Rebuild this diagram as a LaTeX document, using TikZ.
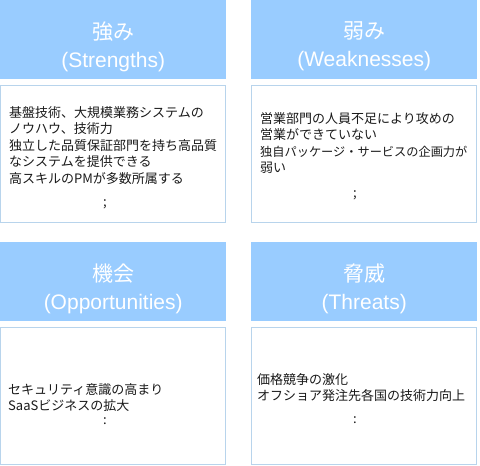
\documentclass[tikz,border=0pt]{standalone}
\usepackage{fontspec}
\setmainfont{Liberation Sans}
\newfontfamily\jpfont{Noto Sans CJK JP}
\usetikzlibrary{positioning}
\definecolor{swothead}{HTML}{99CCFF}
\definecolor{swotrule}{HTML}{B8D4EC}
\definecolor{swotink}{HTML}{1A1A1A}

\begin{document}
\begin{tikzpicture}[x=1pt, y=-1pt,
  head/.style={fill=swothead, minimum width=226pt, minimum height=79pt, inner sep=0pt, anchor=north west},
  ttl/.style={text=white, align=center, inner sep=0pt, font=\fontsize{21}{28}\selectfont},
  body/.style={draw=swotrule, line width=1pt, fill=white, minimum width=225pt, minimum height=137pt, inner sep=0pt},
  txt/.style={anchor=north west, align=left, inner sep=0pt, text=swotink, font=\jpfont\fontsize{13}{16.5}\selectfont},
  more/.style={inner sep=0pt, text=swotink, font=\jpfont\fontsize{13}{16.5}\selectfont}]
  \useasboundingbox (0,0) rectangle (480,466);
  % ---------- quadrants ----------
  \foreach \x/\y/\n/\j/\e in {0/0/s/強み/Strengths, 251/0/w/弱み/Weaknesses, 0/242/o/機会/Opportunities, 251/242/t/脅威/Threats}
    { \node[head] (h\n) at (\x,\y) {};
      \node[ttl] (l\n) at ([yshift=-7pt]h\n.center) {{\jpfont\j}\\(\e)};
      \node[body, below=6pt of h\n] (b\n) {}; }
  % ---------- contents ----------
  \node[txt] (ts) at (9,106) {基盤技術、大規模業務システムの\\ノウハウ、技術力\\独立した品質保証部門を持ち高品質\\なシステムを提供できる\\高スキルのPMが多数所属する};
  \node[more] (ds) at (105,204) {;};
  \node[txt] (tw) at (260,112) {営業部門の人員不足により攻めの\\営業ができていない\\{\fontsize{12.2}{16.5}\selectfont 独自パッケージ・サービスの企画力が}\\弱い};
  \node[more] (dw) at (355,195) {;};
  \node[txt] (to) at (8,383) {セキュリティ意識の高まり\\SaaSビジネスの拡大};
  \node[more] (do) at (105,421) {:};
  \node[txt] (tt) at (257,373) {価格競争の激化\\オフショア発注先各国の技術力向上};
  \node[more] (dt) at (355,420) {:};
\end{tikzpicture}
\end{document}
